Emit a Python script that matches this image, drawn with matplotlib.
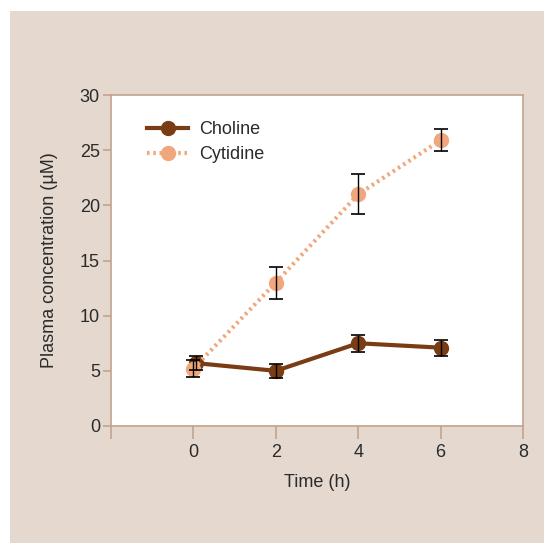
import matplotlib
matplotlib.use("Agg")
import matplotlib.pyplot as plt
from matplotlib.patches import Rectangle

# Data
time_h = [0, 2, 4, 6]
choline = [5.7, 5.0, 7.5, 7.1]
choline_err = [0.65, 0.65, 0.75, 0.72]
cytidine = [5.2, 13.0, 21.0, 25.9]
cytidine_err = [0.75, 1.45, 1.8, 1.0]
x_ticks = [-2, 0, 2, 4, 6, 8]
x_tick_labels = ["", "0", "2", "4", "6", "8"]
y_ticks = [0, 5, 10, 15, 20, 25, 30]

bg = "#e4d8cf"
spine = "#c4a28c"
text = "#2b2b2b"
dark = "#7a3c14"
light = "#f0a77c"

plt.rcParams['font.family'] = ['Liberation Sans', 'DejaVu Sans']

fig = plt.figure(figsize=(5.44, 5.43), dpi=100)
fig.patch.set_facecolor("white")
# beige panel behind the chart
fig.patches.append(Rectangle((10 / 544, 0), 1, 1 - 11 / 543, transform=fig.transFigure,
                             facecolor=bg, edgecolor="none", zorder=-10))

ax = fig.add_axes([111 / 544, 1 - 426 / 543, 412 / 544, 331 / 543])
ax.set_facecolor("white")

# small dodge so the choline point at t=0 is not fully hidden
dodge = [0.06, 0, 0, 0]
ch_x = [t + d for t, d in zip(time_h, dodge)]

ax.plot(ch_x, choline, color=dark, lw=3, marker="o", ms=10, label="Choline", zorder=3)
ax.plot(time_h, cytidine, color=light, lw=3, ls=(0, (0.6, 0.9)), marker="o", ms=10,
        label="Cytidine", zorder=4)
ax.errorbar(ch_x, choline, yerr=choline_err, fmt="none", ecolor="black", elinewidth=1,
            capsize=5, capthick=1.2, zorder=5)
ax.errorbar(time_h, cytidine, yerr=cytidine_err, fmt="none", ecolor="black", elinewidth=1,
            capsize=5, capthick=1.2, zorder=5)

ax.set_xlim(-2, 8)
ax.set_ylim(0, 30)
ax.set_xticks(x_ticks)
ax.set_xticklabels(x_tick_labels)
ax.set_yticks(y_ticks)

for s in ax.spines.values():
    s.set_color(spine)
    s.set_linewidth(1.2)
ax.tick_params(axis="x", direction="out", length=9, width=1.2, color=spine,
               labelsize=13, labelcolor=text, pad=4)
ax.tick_params(axis="y", direction="out", length=6, width=1.2, color=spine,
               labelsize=13, labelcolor=text, pad=2)

ax.set_xlabel("Time (h)", fontsize=13, color=text, labelpad=9)
ax.set_ylabel("Plasma concentration (µM)", fontsize=13, color=text, labelpad=16)

leg = ax.legend(loc="upper left", bbox_to_anchor=(0.049, 0.971), frameon=False,
                fontsize=13, handlelength=2.25, handletextpad=0.6, labelspacing=0.45,
                labelcolor=text)

fig.savefig("out.png", dpi=100, facecolor="white")
